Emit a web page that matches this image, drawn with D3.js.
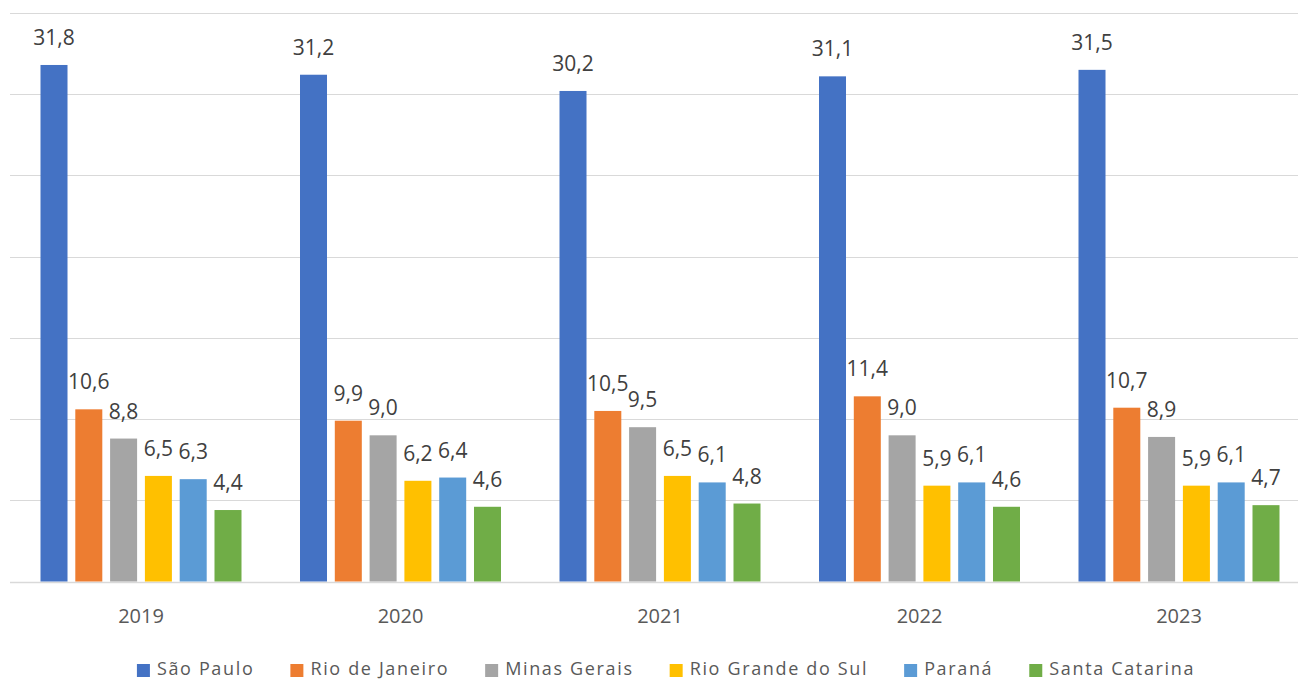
<!DOCTYPE html>
<html>
<head>
<meta charset="utf-8">
<script src="https://cdn.jsdelivr.net/npm/d3@7"></script>
<style>
  html, body { margin: 0; padding: 0; background: #fff; }
  svg { display: block; }
</style>
</head>
<body>
<svg id="chart" width="1298" height="679"></svg>
<script>
const years = ["2019", "2020", "2021", "2022", "2023"];
const states = ["São Paulo", "Rio de Janeiro", "Minas Gerais", "Rio Grande do Sul", "Paraná", "Santa Catarina"];
const colors = ["#4472C4", "#ED7D31", "#A5A5A5", "#FFC000", "#5B9BD5", "#70AD47"];
const saoPaulo        = [31.8, 31.2, 30.2, 31.1, 31.5];
const rioDeJaneiro    = [10.6, 9.9, 10.5, 11.4, 10.7];
const minasGerais     = [8.8, 9.0, 9.5, 9.0, 8.9];
const rioGrandeDoSul  = [6.5, 6.2, 6.5, 5.9, 5.9];
const parana          = [6.3, 6.4, 6.1, 6.1, 6.1];
const santaCatarina   = [4.4, 4.6, 4.8, 4.6, 4.7];
const yTicks = [0, 5, 10, 15, 20, 25, 30, 35];

const seriesValues = [saoPaulo, rioDeJaneiro, minasGerais, rioGrandeDoSul, parana, santaCatarina];
const fmt = v => v.toFixed(1).replace(".", ",");

const svg = d3.select("#chart");
const W = 1298;

const x0 = d3.scaleBand().domain(years).range([11.25, 1308.75]).paddingInner(0).paddingOuter(0);
const groupPad = (x0.bandwidth() - 201) / 2;
const x1 = d3.scaleBand().domain(states).range([groupPad, x0.bandwidth() - groupPad]).paddingInner(0.224).paddingOuter(0);
const y = d3.scaleLinear().domain([0, 35]).range([581.5, 13]);

// gridlines
svg.append("g").selectAll("line").data(yTicks).join("line")
  .attr("x1", 10).attr("x2", W)
  .attr("y1", d => Math.round(y(d)) + 0.5).attr("y2", d => Math.round(y(d)) + 0.5)
  .attr("stroke", "#d9d9d9")
  .attr("stroke-width", d => d === 0 ? 1.5 : 1);

// bars
const groups = svg.append("g").selectAll("g").data(years).join("g")
  .attr("transform", d => `translate(${x0(d)},0)`);

groups.each(function(year, yi) {
  const g = d3.select(this);
  const rows = states.map((s, si) => ({ s, si, v: seriesValues[si][yi] }));
  g.selectAll("rect").data(rows).join("rect")
    .attr("x", d => x1(d.s))
    .attr("y", d => y(d.v))
    .attr("width", x1.bandwidth())
    .attr("height", d => y(0) - y(d.v))
    .attr("fill", d => colors[d.si]);
  g.selectAll("text").data(rows).join("text")
    .attr("x", d => x1(d.s) + x1.bandwidth() / 2)
    .attr("y", d => y(d.v) - 20)
    .attr("text-anchor", "middle")
    .attr("font-family", "'Open Sans', sans-serif")
    .attr("font-size", 21)
    .attr("fill", "#404040")
    .text(d => fmt(d.v));
});

// x axis labels
const xAxis = d3.axisBottom(x0).tickSize(0).tickPadding(0);
const ax = svg.append("g").attr("transform", `translate(0,${y(0)})`).call(xAxis);
ax.select(".domain").remove();
ax.selectAll("text")
  .attr("dy", null)
  .attr("y", 41.5)
  .attr("font-family", "'Open Sans', sans-serif")
  .attr("font-size", 20)
  .attr("fill", "#595959");

// legend
const legend = svg.append("g");
let cx = 0;
states.forEach((s, i) => {
  const item = legend.append("g");
  item.append("rect").attr("x", 0).attr("y", 664).attr("width", 13).attr("height", 13).attr("fill", colors[i]);
  const t = item.append("text").attr("x", 20).attr("y", 675)
    .attr("font-family", "'Open Sans', sans-serif")
    .attr("font-size", 18)
    .attr("letter-spacing", "1.65px")
    .attr("fill", "#595959")
    .text(s);
  const w = 20 + t.node().getBBox().width;
  item.attr("transform", `translate(${cx},0)`);
  cx += w + 36;
});
const total = cx - 36;
legend.attr("transform", `translate(${666 - total / 2},0)`);
</script>
</body>
</html>
